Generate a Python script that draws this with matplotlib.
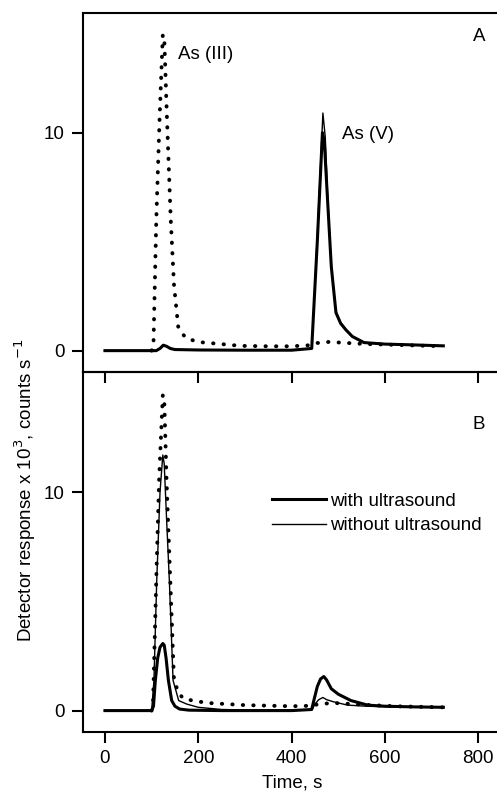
import matplotlib
matplotlib.use("Agg")
import matplotlib.pyplot as plt

plt.rcParams['font.family'] = ['Liberation Sans', 'DejaVu Sans']

# Panel A (time in s, response x 10^3 counts/s)
a_time_dot = [100, 104, 110, 117, 124, 127, 133, 141, 148, 157, 172, 198, 240, 290, 350, 400,
              440, 455, 480, 520, 560, 600, 660, 725]
a_dot = [0, 0.3, 6.0, 10.6, 14.5, 14.4, 10.6, 6.0, 3.0, 1.1, 0.6, 0.4, 0.32, 0.22, 0.2, 0.2,
         0.25, 0.35, 0.4, 0.35, 0.3, 0.28, 0.24, 0.2]

a_time_with = [0, 110, 118, 125, 132, 140, 150, 200, 300, 400, 443, 455, 466, 470, 477, 485,
               495, 505, 516, 530, 555, 600, 650, 725]
a_with = [0, 0, 0.1, 0.25, 0.2, 0.1, 0.05, 0.03, 0.02, 0.02, 0.1, 5.0, 10.0, 9.6, 6.9, 3.85,
          1.74, 1.25, 0.96, 0.65, 0.37, 0.3, 0.27, 0.22]

a_time_without = [0, 110, 118, 125, 132, 140, 150, 200, 300, 400, 443, 455, 467, 472, 477, 485,
                  495, 505, 516, 530, 555, 600, 650, 725]
a_without = [0, 0, 0.1, 0.25, 0.2, 0.1, 0.05, 0.03, 0.02, 0.02, 0.1, 5.3, 10.9, 9.8, 7.2, 3.9,
             1.8, 1.3, 0.98, 0.66, 0.38, 0.3, 0.27, 0.22]

# Panel B
b_time_dot = [100, 103, 110, 116, 124, 127, 132, 140, 148, 158, 168, 190, 220, 300, 400,
              440, 460, 490, 530, 570, 620, 725]
b_dot = [0, 0.3, 6.0, 10.55, 14.45, 14.3, 10.55, 5.96, 1.38, 0.8, 0.55, 0.45, 0.35, 0.25, 0.2,
         0.22, 0.3, 0.35, 0.3, 0.25, 0.2, 0.15]

b_time_with = [0, 100, 104, 108, 113, 118, 124, 127, 131, 136, 143, 150, 160, 180, 250, 400,
               443, 448, 455, 462, 469, 475, 485, 500, 527, 563, 600, 660, 725]
b_with = [0, 0, 0.2, 1.38, 2.4, 2.9, 3.07, 3.0, 2.4, 1.38, 0.46, 0.2, 0.07, 0.02, 0.0, 0.0,
          0.05, 0.5, 1.1, 1.45, 1.56, 1.4, 1.0, 0.75, 0.46, 0.25, 0.2, 0.17, 0.15]

b_time_without = [0, 100, 105, 111, 118, 124, 127, 132, 138, 146, 158, 175, 200, 250, 300, 400,
                  444, 450, 458, 467, 475, 490, 520, 560, 620, 725]
b_without = [0, 0, 1.38, 5.96, 10.0, 11.7, 11.3, 8.8, 5.96, 1.38, 0.46, 0.3, 0.15, 0.05, 0.03,
             0.02, 0.05, 0.3, 0.5, 0.6, 0.5, 0.4, 0.25, 0.2, 0.17, 0.15]

x_ticks = [0, 200, 400, 600, 800]
y_ticks = [0, 10]

DOT = (0, (0.1, 2.6))
FS = 13.5


def style_axes(ax, show_xlabels):
    ax.set_xlim(-47, 840)
    ax.set_ylim(-0.98, 15.5)
    ax.set_xticks(x_ticks)
    ax.set_yticks(y_ticks)
    ax.spines['right'].set_visible(False)
    for s in ['left', 'top', 'bottom']:
        ax.spines[s].set_linewidth(1.5)
    ax.tick_params(direction='out', length=8, width=1.5, labelsize=13.5, pad=5)
    if not show_xlabels:
        ax.tick_params(axis='x', labelbottom=False)


def plot_panel(ax, t_dot, dot, t_with, y_with, t_without, y_without):
    ax.plot(t_dot, dot, color='black', lw=2.8, linestyle=DOT, dash_capstyle='round')
    ax.plot(t_without, y_without, color='black', lw=1.0)
    ax.plot(t_with, y_with, color='black', lw=2.2)


fig = plt.figure(figsize=(4.97, 8.0), dpi=100)
ax1 = fig.add_axes([0.167, 0.535, 0.833, 0.449])
ax2 = fig.add_axes([0.167, 0.085, 0.833, 0.45])
# let the ticks of panel A show through panel B
ax2.patch.set_alpha(0)
ax1.set_zorder(2)
ax1.patch.set_alpha(0)

plot_panel(ax1, a_time_dot, a_dot, a_time_with, a_with, a_time_without, a_without)
plot_panel(ax2, b_time_dot, b_dot, b_time_with, b_with, b_time_without, b_without)
style_axes(ax1, False)
style_axes(ax2, True)

ax1.text(157, 13.6, 'As (III)', fontsize=FS, va='center', ha='left')
ax1.text(507, 9.9, 'As (V)', fontsize=FS, va='center', ha='left')
ax1.text(802, 14.4, 'A', fontsize=FS, va='center', ha='center')
ax2.text(800, 13.1, 'B', fontsize=FS, va='center', ha='center')

# legend only drawn in panel B
h1, = ax2.plot([], [], color='black', lw=2.2, label='with ultrasound')
h2, = ax2.plot([], [], color='black', lw=1.0, label='without ultrasound')
ax2.legend(handles=[h1, h2], loc='upper left', bbox_to_anchor=(0.4565, 0.665), frameon=False,
           fontsize=FS, handlelength=2.9, handletextpad=0.2, borderpad=0, borderaxespad=0,
           labelspacing=0.4)

fig.text(0.05, 0.3875, 'Detector response x 10$^3$, counts s$^{-1}$', rotation=90,
         fontsize=FS, va='center', ha='center')
fig.text(0.5875, 0.021, 'Time, s', fontsize=FS, va='center', ha='center')

fig.savefig('out.png', dpi=100)
